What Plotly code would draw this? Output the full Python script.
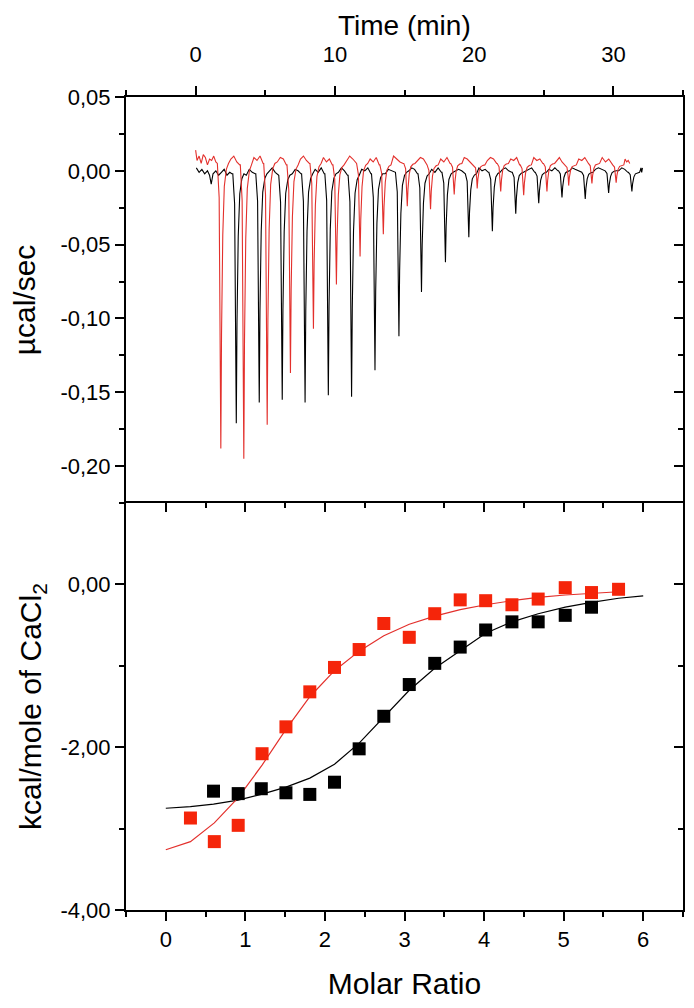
import plotly.graph_objects as go

# ---------------- data: raw thermogram (top panel) ----------------
# black run: pre-injection baseline (time in min, power in ucal/s)
black_pre_t = [0.05, 0.25, 0.45, 0.65, 0.85, 1.0, 1.12, 1.25, 1.45, 1.65, 1.85, 2.05, 2.25, 2.45, 2.6]
black_pre_v = [0.002, -0.001, 0.001, -0.002, 0.000, -0.003, -0.009, -0.002, 0.000, -0.003, -0.001, 0.001, -0.003, -0.001, -0.002]
black_peak_t = [2.92, 4.57, 6.22, 7.86, 9.53, 11.20, 12.88, 14.60, 16.22, 17.94, 19.62, 21.31, 22.99, 24.64, 26.31, 27.98, 29.66, 31.33]
black_peak_v = [-0.171, -0.157, -0.155, -0.157, -0.152, -0.153, -0.135, -0.112, -0.082, -0.062, -0.045, -0.041, -0.029, -0.022, -0.018, -0.019, -0.015, -0.014]
black_gap_v = [
    [-0.003, 0.001, -0.001, -0.002], [0.000, 0.002, -0.001, -0.003], [-0.002, 0.001, 0.000, -0.002],
    [0.001, -0.001, 0.002, -0.002], [-0.001, 0.002, 0.000, -0.003], [0.001, 0.000, 0.002, -0.002],
    [-0.002, 0.001, 0.000, -0.001], [0.000, 0.002, 0.001, -0.002], [0.001, -0.001, 0.002, -0.001],
    [0.000, 0.001, 0.000, -0.002], [0.002, 0.000, 0.001, -0.001], [0.001, 0.002, 0.000, -0.001],
    [0.000, 0.001, 0.002, -0.001], [0.001, 0.000, 0.002, 0.000], [0.002, 0.001, 0.000, -0.001],
    [0.001, 0.002, 0.001, 0.000], [0.000, 0.002, 0.001, -0.001], [0.000, 0.002, -0.001, 0.002],
]
black_end_t = 32.1

# red run
red_pre_t = [0.0, 0.1, 0.25, 0.4, 0.55, 0.7, 0.85, 1.0, 1.15, 1.3, 1.45, 1.55]
red_pre_v = [0.014, 0.007, 0.010, 0.005, 0.011, 0.009, 0.004, 0.008, 0.007, 0.010, 0.006, 0.005]
red_peak_t = [1.81, 3.46, 5.14, 6.81, 8.46, 10.11, 11.81, 13.48, 15.20, 16.87, 18.57, 20.22, 21.91, 23.56, 25.23, 26.79, 28.46, 30.20]
red_peak_v = [-0.188, -0.195, -0.172, -0.137, -0.107, -0.077, -0.058, -0.043, -0.024, -0.026, -0.016, -0.012, -0.014, -0.0165, -0.014, -0.010, -0.0085, -0.008]
red_gap_v = [
    [0.008, 0.010, 0.006, 0.004], [0.009, 0.007, 0.010, 0.005], [0.006, 0.009, 0.008, 0.004],
    [0.008, 0.010, 0.007, 0.005], [0.009, 0.006, 0.008, 0.004], [0.007, 0.010, 0.008, 0.005],
    [0.008, 0.006, 0.009, 0.004], [0.010, 0.008, 0.006, 0.005], [0.007, 0.009, 0.008, 0.004],
    [0.008, 0.006, 0.009, 0.005], [0.009, 0.008, 0.006, 0.004], [0.007, 0.009, 0.008, 0.005],
    [0.008, 0.007, 0.009, 0.004], [0.009, 0.007, 0.008, 0.005], [0.007, 0.009, 0.006, 0.004],
    [0.008, 0.007, 0.009, 0.005], [0.009, 0.006, 0.008, 0.004], [0.008, 0.006, 0.007, 0.005],
]
red_end_t = 31.2

# ---------------- data: integrated heats (bottom panel) ----------------
molar_red = [0.31, 0.61, 0.91, 1.21, 1.51, 1.81, 2.12, 2.43, 2.74, 3.06, 3.38, 3.70, 4.02, 4.35, 4.68, 5.02, 5.35, 5.69]
heat_red = [-2.87, -3.16, -2.96, -2.08, -1.75, -1.32, -1.02, -0.80, -0.48, -0.65, -0.36, -0.19, -0.20, -0.25, -0.18, -0.04, -0.10, -0.06]
molar_black = [0.60, 0.91, 1.20, 1.51, 1.81, 2.12, 2.43, 2.74, 3.06, 3.38, 3.70, 4.02, 4.35, 4.68, 5.02, 5.35]
heat_black = [-2.54, -2.57, -2.51, -2.56, -2.58, -2.43, -2.02, -1.62, -1.23, -0.97, -0.77, -0.56, -0.46, -0.46, -0.38, -0.28]

fit_red_x = [0, 0.31, 0.61, 0.91, 1.21, 1.51, 1.81, 2.12, 2.43, 2.74, 3.06, 3.38, 3.70, 4.02, 4.35, 4.68, 5.02, 5.35, 5.69]
fit_red_y = [-3.26, -3.16, -2.93, -2.62, -2.22, -1.78, -1.38, -1.06, -0.82, -0.63, -0.49, -0.39, -0.31, -0.25, -0.20, -0.16, -0.13, -0.11, -0.09]
fit_black_x = [0, 0.31, 0.60, 0.91, 1.20, 1.51, 1.81, 2.12, 2.43, 2.74, 3.06, 3.38, 3.70, 4.02, 4.35, 4.68, 5.02, 5.35, 5.69, 6.0]
fit_black_y = [-2.75, -2.73, -2.70, -2.65, -2.58, -2.49, -2.38, -2.21, -1.95, -1.63, -1.30, -1.03, -0.81, -0.60, -0.46, -0.36, -0.28, -0.22, -0.17, -0.14]

# ---------------- tick labels ----------------
top_y_tickvals = [0.05, 0.0, -0.05, -0.10, -0.15, -0.20]
top_y_ticktext = ["0,05", "0,00", "-0,05", "-0,10", "-0,15", "-0,20"]
time_tickvals = [0, 10, 20, 30]
bot_y_tickvals = [0, -2, -4]
bot_y_ticktext = ["0,00", "-2,00", "-4,00"]
molar_tickvals = [0, 1, 2, 3, 4, 5, 6]

# spike shape template (relative time offset, fraction of depth)
SPIKE_DT = [-0.25, -0.12, -0.04, 0.0, 0.05, 0.14, 0.25, 0.40, 0.55]
SPIKE_FRAC = [0.0, 0.12, 0.55, 1.0, 0.6, 0.25, 0.08, 0.02, 0.0]
GAP_FRAC = [0.2, 0.45, 0.7, 0.95]


def build_trace(pre_t, pre_v, peak_t, peak_v, gap_v, end_t):
    t = list(pre_t)
    v = list(pre_v)
    for i, (tp, vp) in enumerate(zip(peak_t, peak_v)):
        base = v[-1]
        for dt, f in zip(SPIKE_DT, SPIKE_FRAC):
            t.append(tp + dt)
            v.append(base + f * (vp - base))
        t0 = tp + SPIKE_DT[-1]
        t1 = peak_t[i + 1] + SPIKE_DT[0] if i + 1 < len(peak_t) else end_t
        for fr, gv in zip(GAP_FRAC, gap_v[i]):
            t.append(t0 + fr * (t1 - t0))
            v.append(gv)
    return t, v


bt, bv = build_trace(black_pre_t, black_pre_v, black_peak_t, black_peak_v, black_gap_v, black_end_t)
rt, rv = build_trace(red_pre_t, red_pre_v, red_peak_t, red_peak_v, red_gap_v, red_end_t)

RED_LINE = "#e3302c"
RED_MARK = "#f5250a"

fig = go.Figure()
fig.add_trace(go.Scatter(x=bt, y=bv, mode="lines", line=dict(color="black", width=1.1),
                         xaxis="x", yaxis="y", showlegend=False, hoverinfo="skip"))
fig.add_trace(go.Scatter(x=rt, y=rv, mode="lines", line=dict(color=RED_LINE, width=1.1),
                         xaxis="x", yaxis="y", showlegend=False, hoverinfo="skip"))

fig.add_trace(go.Scatter(x=fit_black_x, y=fit_black_y, mode="lines", line=dict(color="black", width=1.2),
                         xaxis="x2", yaxis="y2", showlegend=False))
fig.add_trace(go.Scatter(x=fit_red_x, y=fit_red_y, mode="lines", line=dict(color=RED_LINE, width=1.2),
                         xaxis="x2", yaxis="y2", showlegend=False))
fig.add_trace(go.Scatter(x=molar_black, y=heat_black, mode="markers",
                         marker=dict(symbol="square", size=13, color="black"),
                         xaxis="x2", yaxis="y2", showlegend=False))
fig.add_trace(go.Scatter(x=molar_red, y=heat_red, mode="markers",
                         marker=dict(symbol="square", size=13, color=RED_MARK),
                         xaxis="x2", yaxis="y2", showlegend=False))

# dummy traces so the mirror axes get drawn
fig.add_trace(go.Scatter(x=[None], y=[None], xaxis="x", yaxis="y4", showlegend=False, hoverinfo="skip"))
fig.add_trace(go.Scatter(x=[None], y=[None], xaxis="x2", yaxis="y3", showlegend=False, hoverinfo="skip"))
fig.add_trace(go.Scatter(x=[None], y=[None], xaxis="x3", yaxis="y2", showlegend=False, hoverinfo="skip"))

FONT = "Liberation Sans, Arial, sans-serif"
TICKFONT = dict(family=FONT, size=22, color="black")
TITLEFONT = dict(family=FONT, size=30, color="black")
SPLIT = 0.5006
PLOT_TOP = 89
PLOT_H = 813

common = dict(showline=True, linecolor="black", linewidth=2, showgrid=False, zeroline=False,
              tickcolor="black", tickwidth=2, tickfont=TICKFONT, automargin=False)

# page has an 8 px body margin, so the figure is 16 px smaller than the window
fig.update_layout(
    width=678, height=992,
    margin=dict(l=118, r=3, t=PLOT_TOP, b=90),
    paper_bgcolor="white", plot_bgcolor="white",
    font=dict(family=FONT, color="black"),
    xaxis=dict(domain=[0, 1], anchor="y", side="top", range=[-5, 35],
               tickvals=time_tickvals, ticks="outside", ticklen=9, ticklabelstandoff=15,
               minor=dict(dtick=5, ticks="outside", ticklen=5, tickwidth=2, tickcolor="black"),
               **common),
    yaxis=dict(domain=[SPLIT, 1], anchor="x", range=[-0.225, 0.05],
               tickvals=top_y_tickvals, ticktext=top_y_ticktext, ticks="outside", ticklen=9,
               minor=dict(dtick=0.025, tick0=0, ticks="outside", ticklen=5, tickwidth=2, tickcolor="black"),
               title=dict(text="µcal/sec", font=TITLEFONT, standoff=16), **common),
    yaxis4=dict(overlaying="y", anchor="x", side="right", range=[-0.225, 0.05],
                tickvals=top_y_tickvals, showticklabels=False, ticks="inside", ticklen=9,
                minor=dict(dtick=0.025, tick0=0, ticks="inside", ticklen=5, tickwidth=2, tickcolor="black"),
                **common),
    xaxis2=dict(domain=[0, 1], anchor="y2", side="bottom", range=[-0.5, 6.5],
                tickvals=molar_tickvals, ticks="outside", ticklen=9,
                minor=dict(dtick=0.5, tick0=0, ticks="outside", ticklen=5, tickwidth=2, tickcolor="black"),
                title=dict(text="Molar Ratio", font=TITLEFONT, standoff=22), **common),
    xaxis3=dict(overlaying="x2", anchor="y2", side="top", range=[-0.5, 6.5],
                tickvals=molar_tickvals, showticklabels=False, ticks="inside", ticklen=9,
                minor=dict(dtick=0.5, tick0=0, ticks="inside", ticklen=5, tickwidth=2, tickcolor="black"),
                **common),
    yaxis2=dict(domain=[0, SPLIT], anchor="x2", range=[-4, 1],
                tickvals=bot_y_tickvals, ticktext=bot_y_ticktext, ticks="outside", ticklen=9,
                minor=dict(dtick=1, tick0=0, ticks="outside", ticklen=5, tickwidth=2, tickcolor="black"),
                title=dict(text="kcal/mole of CaCl<sub>2</sub>", font=TITLEFONT, standoff=10), **common),
    yaxis3=dict(overlaying="y2", anchor="x2", side="right", range=[-4, 1],
                tickvals=bot_y_tickvals, showticklabels=False, ticks="inside", ticklen=9,
                minor=dict(dtick=1, tick0=0, ticks="inside", ticklen=5, tickwidth=2, tickcolor="black"),
                **common),
    annotations=[dict(text="Time (min)", xref="paper", yref="paper", x=0.5,
                      y=1 + PLOT_TOP / PLOT_H, xanchor="center", yanchor="top",
                      showarrow=False, font=dict(family=FONT, size=28, color="black"))],
)

fig.write_html("out.html")
